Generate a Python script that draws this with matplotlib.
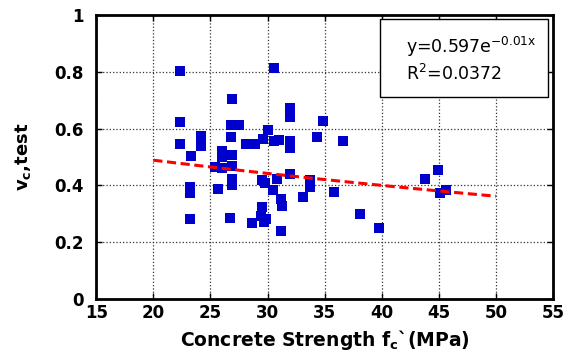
import numpy as np
import matplotlib
matplotlib.use("Agg")
import matplotlib.pyplot as plt
from matplotlib.patches import Rectangle

# concrete strength f'c (MPa) and measured vc,test
fc = [22.3, 30.6, 26.9, 32.0, 32.0, 34.9, 22.3, 26.8, 27.5, 30.0,
      24.2, 26.8, 34.3, 29.6, 30.6, 31.0, 32.0, 36.6, 22.3, 24.2,
      28.1, 28.9, 32.0, 26.0, 23.3, 26.0, 26.9, 25.4, 26.0, 26.9,
      26.9, 26.9, 23.2, 23.2, 25.7, 29.5, 29.8, 30.8, 30.5, 32.0,
      33.7, 33.7, 33.1, 31.2, 31.3, 29.5, 29.4, 29.9, 28.6, 29.7,
      23.2, 26.7, 31.2, 35.8, 38.1, 39.8, 43.8, 44.9, 45.1, 45.6]
vc = [0.804, 0.812, 0.704, 0.671, 0.642, 0.627, 0.622, 0.613, 0.613, 0.596,
      0.575, 0.570, 0.570, 0.562, 0.557, 0.561, 0.556, 0.556, 0.546, 0.540,
      0.544, 0.544, 0.530, 0.520, 0.505, 0.500, 0.507, 0.466, 0.460, 0.469,
      0.422, 0.403, 0.395, 0.374, 0.387, 0.419, 0.407, 0.421, 0.384, 0.440,
      0.419, 0.395, 0.360, 0.354, 0.328, 0.325, 0.292, 0.282, 0.269, 0.272,
      0.281, 0.284, 0.239, 0.378, 0.298, 0.249, 0.424, 0.454, 0.372, 0.384]

# exponential fit y = a*exp(b*x) as printed on the chart
fit_a = 0.597
fit_b = -0.01
fit_r2 = 0.0372
fit_range = [20, 50]

xticks = [15, 20, 25, 30, 35, 40, 45, 50, 55]
yticks = [0, 0.2, 0.4, 0.6, 0.8, 1]

plt.rcParams['font.family'] = 'DejaVu Sans'
plt.rcParams['mathtext.default'] = 'regular'

fig = plt.figure(figsize=(5.66, 3.54), dpi=100)
ax = fig.add_axes([0.170, 0.155, 0.807, 0.803])

ax.plot(fc, vc, 's', color='#0000cc', markersize=7.3, markeredgewidth=0, zorder=3)

xf = np.linspace(fit_range[0], fit_range[1], 50)
ax.plot(xf, fit_a * np.exp(fit_b * xf), '--', color='red', linewidth=2.2,
        dashes=(3, 1.5), zorder=4)

ax.set_xlim(15, 55)
ax.set_ylim(0, 1)
ax.set_xticks(xticks)
ax.set_yticks(yticks)
ax.set_xticklabels([str(t) for t in xticks], fontsize=12, fontweight='bold')
ax.set_yticklabels([('%g' % t) for t in yticks], fontsize=12, fontweight='bold')
ax.tick_params(axis='both', direction='in', length=4, width=1,
               top=True, right=True)
ax.tick_params(axis='x', pad=3.5)
ax.tick_params(axis='y', pad=9)
ax.grid(True, linestyle=':', color='#333333', linewidth=0.9)
for s in ax.spines.values():
    s.set_linewidth(2)

ax.set_xlabel('Concrete Strength f$_\\mathregular{c}$`(MPa)', fontsize=13.5,
              fontweight='bold')
ax.xaxis.set_label_coords(0.5, -0.1)
ax.set_ylabel('v$_\\mathregular{c}$,test', fontsize=13, fontweight='bold')
ax.yaxis.set_label_coords(-0.138, 0.5)

# equation box
ax.add_patch(Rectangle((0.621, 0.711), 0.368, 0.275, transform=ax.transAxes,
                       facecolor='white', edgecolor='black', linewidth=1, zorder=5))
ax.text(0.678, 0.866, 'y=%.3fe$^{%.2fx}$' % (fit_a, fit_b), transform=ax.transAxes,
        fontsize=12.5, va='baseline', zorder=6)
ax.text(0.678, 0.771, 'R$^2$=%.4f' % fit_r2, transform=ax.transAxes,
        fontsize=12.5, va='baseline', zorder=6)

fig.savefig('out.png', dpi=100)
